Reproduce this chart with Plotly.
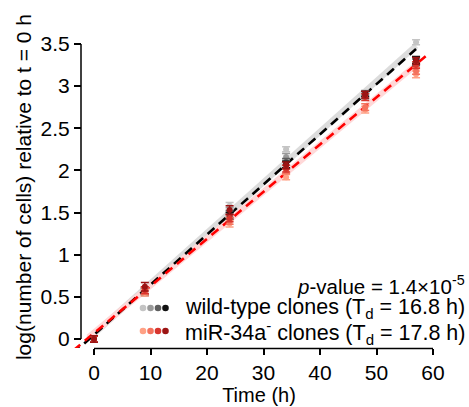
import plotly.graph_objects as go

W, H = 469, 407

# ---- data ----
time_h = [0, 9, 24, 34, 48, 57]

wt_names = ["WT clone 1", "WT clone 2", "WT clone 3", "WT clone 4"]
wt_colors = ["#c4c4c4", "#9a9a9a", "#5e5e5e", "#111111"]
wt_values = [
    [0.00, 0.58, 1.58, 2.25, 2.92, 3.52],
    [0.00, 0.55, 1.52, 2.16, 2.90, 3.30],
    [0.00, 0.56, 1.48, 2.10, 2.88, 3.28],
    [0.00, 0.57, 1.46, 2.07, 2.91, 3.31],
]
wt_errors = [
    [0.04, 0.04, 0.04, 0.03, 0.03, 0.03],
    [0.04, 0.04, 0.04, 0.04, 0.03, 0.04],
    [0.04, 0.04, 0.04, 0.04, 0.03, 0.04],
    [0.04, 0.04, 0.04, 0.04, 0.03, 0.04],
]

mir_names = ["miR-34a- clone 1", "miR-34a- clone 2", "miR-34a- clone 3", "miR-34a- clone 4"]
mir_colors = ["#ffa185", "#f4735e", "#d8352e", "#9c1414"]
mir_values = [
    [0.00, 0.55, 1.37, 1.92, 2.72, 3.14],
    [0.00, 0.57, 1.40, 1.99, 2.75, 3.18],
    [0.00, 0.58, 1.43, 2.02, 2.87, 3.25],
    [0.00, 0.62, 1.53, 2.06, 2.90, 3.30],
]
mir_errors = [
    [0.04, 0.04, 0.04, 0.03, 0.04, 0.04],
    [0.04, 0.04, 0.04, 0.03, 0.04, 0.04],
    [0.04, 0.04, 0.04, 0.04, 0.04, 0.04],
    [0.04, 0.05, 0.05, 0.04, 0.04, 0.04],
]

# fitted lines (end points)
fit_wt_t = [-5.7, 57.0]
fit_wt_v = [-0.29, 3.44]
fit_mir_t = [-5.7, 59.0]
fit_mir_v = [-0.25, 3.37]
band_wt_t = [-1.0, 57.0]
band_wt_v = [0.00, 3.48]
band_mir_t = [-1.0, 57.5]
band_mir_v = [0.02, 3.28]

x_ticks = [0, 10, 20, 30, 40, 50, 60]
y_ticks = [0, 0.5, 1, 1.5, 2, 2.5, 3, 3.5]
y_tick_text = ["0", "0.5", "1", "1.5", "2", "2.5", "3", "3.5"]

p_value_text = "<i>p</i>-value = 1.4×10<sup>-5</sup>"
wt_label = "wild-type clones (T<sub>d</sub> = 16.8 h)"
mir_label = "miR-34a<sup>-</sup> clones (T<sub>d</sub> = 17.8 h)"

FONT = "Arial, Liberation Sans, Helvetica, sans-serif"

# ---- layout geometry (pixels) ----
def px_x(px):
    return px / W

def px_y(py):
    return 1 - py / H

plot_left, plot_right, plot_top, plot_bottom = 62, 456, 26, 348
x0_px, px_per_h = 94, 5.65
y0_px, px_per_unit = 339, 84.3
x_range = [(plot_left - x0_px) / px_per_h, (plot_right - x0_px) / px_per_h]
y_range = [(y0_px - plot_bottom) / px_per_unit, (y0_px - plot_top) / px_per_unit]

fig = go.Figure()

# light bands
fig.add_trace(go.Scatter(x=band_wt_t, y=band_wt_v, mode="lines",
                         line=dict(color="#dcdcdc", width=6), showlegend=False, hoverinfo="skip"))
fig.add_trace(go.Scatter(x=band_mir_t, y=band_mir_v, mode="lines",
                         line=dict(color="#ffd8d8", width=6), showlegend=False, hoverinfo="skip"))

# fitted dashed lines
fig.add_trace(go.Scatter(x=fit_wt_t, y=fit_wt_v, mode="lines",
                         line=dict(color="black", width=2.6, dash="9px,6px"), showlegend=False))
fig.add_trace(go.Scatter(x=fit_mir_t, y=fit_mir_v, mode="lines",
                         line=dict(color="#ff0000", width=2.6, dash="9px,6px"), showlegend=False))

# data points with error bars
for names, colors, vals, errs in ((wt_names, wt_colors, wt_values, wt_errors),
                                  (mir_names, mir_colors, mir_values, mir_errors)):
    for n, c, v, e in zip(names, colors, vals, errs):
        fig.add_trace(go.Scatter(
            x=time_h, y=v, mode="markers", name=n, showlegend=False,
            marker=dict(color=c, size=6),
            error_y=dict(type="data", array=e, color=c, thickness=1.5, width=4),
        ))

shapes = []
# axis lines limited to the tick span
shapes.append(dict(type="line", xref="x", yref="paper", x0=x_ticks[0], x1=x_ticks[-1],
                   y0=px_y(plot_bottom + 0.5), y1=px_y(plot_bottom + 0.5),
                   line=dict(color="black", width=1.5)))
shapes.append(dict(type="line", xref="paper", yref="y", x0=px_x(81), x1=px_x(81),
                   y0=y_ticks[0], y1=y_ticks[-1], line=dict(color="black", width=1.5)))

# legend dots
dot_x = [143, 150.5, 158, 165.5]
for row_y, cols in ((308, wt_colors), (331, mir_colors)):
    for dx, c in zip(dot_x, cols):
        r = 3.3
        shapes.append(dict(type="circle", xref="paper", yref="paper",
                           x0=px_x(dx - r), x1=px_x(dx + r),
                           y0=px_y(row_y + r), y1=px_y(row_y - r),
                           fillcolor=c, line=dict(width=0)))

annotations = [
    dict(text=p_value_text, xref="paper", yref="paper", x=px_x(467), y=px_y(285),
         xanchor="right", yanchor="middle", showarrow=False, font=dict(size=20.5, color="black")),
    dict(text=wt_label, xref="paper", yref="paper", x=px_x(467), y=px_y(308),
         xanchor="right", yanchor="middle", showarrow=False, font=dict(size=21.5, color="black")),
    dict(text=mir_label, xref="paper", yref="paper", x=px_x(467), y=px_y(332),
         xanchor="right", yanchor="middle", showarrow=False, font=dict(size=21.5, color="black")),
]

fig.update_layout(
    width=W, height=H,
    margin=dict(l=0, r=0, t=0, b=0),
    paper_bgcolor="white", plot_bgcolor="white",
    font=dict(family=FONT, size=21, color="black"),
    showlegend=False,
    shapes=shapes,
    annotations=annotations,
    xaxis=dict(domain=[px_x(plot_left), px_x(plot_right)], range=x_range,
               tickvals=x_ticks, ticks="outside", ticklen=6, tickwidth=1.5, tickcolor="black",
               showline=False, showgrid=False, zeroline=False, automargin=False,
               tickfont=dict(size=21),
               title=dict(text="Time (h)", font=dict(size=20), standoff=0)),
    yaxis=dict(domain=[px_y(plot_bottom), px_y(plot_top)], range=y_range,
               anchor="free", position=px_x(81),
               tickvals=y_ticks, ticktext=y_tick_text,
               ticks="outside", ticklen=7, tickwidth=1.5, tickcolor="black",
               showline=False, showgrid=False, zeroline=False, automargin=False,
               tickfont=dict(size=21),
               title=dict(text="log(number of cells) relative to t = 0 h", font=dict(size=21), standoff=2)),
)

fig.write_html("out.html")
